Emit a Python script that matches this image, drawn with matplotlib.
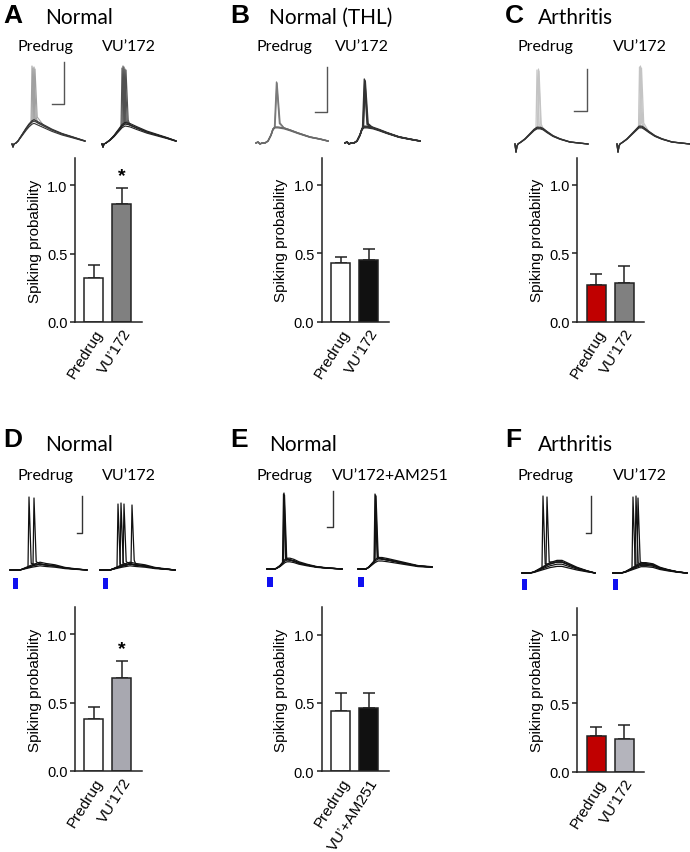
import numpy as np
import matplotlib
matplotlib.use('Agg')
import matplotlib.pyplot as plt

plt.rcParams['font.family'] = ['Liberation Sans', 'DejaVu Sans']

W, H = 690, 853

# ---------------- bar data (spiking probability) ----------------
labels_A = ['Predrug', 'VU’172']
means_A = [0.32, 0.86]
sem_A = [0.10, 0.12]
colors_A = ['white', '#808080']

labels_B = ['Predrug', 'VU’172']
means_B = [0.43, 0.45]
sem_B = [0.04, 0.08]
colors_B = ['white', '#111111']

labels_C = ['Predrug', 'VU’172']
means_C = [0.27, 0.28]
sem_C = [0.08, 0.125]
colors_C = ['#c00000', '#808080']

labels_D = ['Predrug', 'VU’172']
means_D = [0.38, 0.68]
sem_D = [0.09, 0.125]
colors_D = ['white', '#a8a8b0']

labels_E = ['Predrug', 'VU’+AM251']
means_E = [0.44, 0.46]
sem_E = [0.13, 0.11]
colors_E = ['white', '#111111']

labels_F = ['Predrug', 'VU’172']
means_F = [0.26, 0.24]
sem_F = [0.07, 0.105]
colors_F = ['#c00000', '#b4b4bc']

# ---------------- example traces (1 unit = 1 px) ----------------
# subthreshold waveform (t, v), sweep amplitudes, spike onsets and spike peaks
A_pre_t = [0, 1, 2, 4, 6, 10, 14, 17, 20, 22, 26, 32, 40, 50, 60, 73]
A_pre_v = [0, -3, 0, 1, 3, 9, 15, 19, 22, 23, 21, 18, 14, 10, 7, 3]
A_pre_gain = [0.9, 1.0, 1.06]
A_pre_spk = [19, 20, 21, 22]
A_pre_peak = [78, 76, 77, 75]

A_vu_t = [0, 1, 2, 4, 8, 12, 16, 20, 23, 28, 35, 45, 55, 65, 74]
A_vu_v = [0, -3, 0, 1, 4, 8, 13, 18, 20, 19, 16, 12, 9, 6, 3]
A_vu_gain = [0.9, 1.0, 1.08]
A_vu_spk = [19, 20, 21, 22, 23]
A_vu_peak = [76, 78, 77, 75, 74]

B_pre_t = [0, 2, 4, 6, 9, 12, 15, 17, 19, 22, 28, 34, 42, 54, 64, 72]
B_pre_v = [0, 1, -1, 0, 0, 2, 8, 14, 16, 16, 15, 13, 10, 6, 4, 2]
B_pre_gain = [0.95, 1.0]
B_pre_spk = [18.5, 19]
B_pre_peak = [61, 60]

B_vu_t = [0, 2, 4, 6, 9, 12, 15, 17, 19, 22, 28, 34, 42, 54, 64, 75]
B_vu_v = [0, 1, -1, 0, 0, 2, 8, 14, 16, 16, 15, 13, 10, 6, 4, 2]
B_vu_gain = [0.95, 1.0, 1.05]
B_vu_spk = [17.5, 18, 18.5]
B_vu_peak = [64, 63, 62]

C_pre_t = [0, 1, 2, 3, 6, 10, 15, 19, 22, 25, 28, 32, 38, 45, 55, 73]
C_pre_v = [0, -8, -2, 0, 2, 5, 10, 14, 16, 16, 15, 12, 8, 5, 2, 0]
C_pre_gain = [0.95, 1.0, 1.05]
C_pre_spk = [21, 22.5, 23]
C_pre_peak = [74, 75, 73]

C_vu_t = [0, 1, 2, 3, 6, 10, 15, 19, 22, 25, 28, 32, 38, 45, 55, 73]
C_vu_v = [0, -8, -2, 0, 2, 5, 10, 14, 17, 17, 15, 12, 8, 5, 2, 0]
C_vu_gain = [0.95, 1.0, 1.05]
C_vu_spk = [21.5, 22.5, 23.5]
C_vu_peak = [77, 78, 76]

D_pre_t = [0, 5, 10, 13, 16, 19, 22, 26, 30, 36, 45, 55, 65, 77]
D_pre_v = [0, 0, 0, 1, 2, 3, 4, 5, 6, 5, 4, 2, 1, 0]
D_pre_gain = [0.7, 1.0, 1.3]
D_pre_spk = [18, 23]
D_pre_peak = [73, 72]

D_vu_t = [0, 5, 10, 13, 16, 19, 22, 26, 30, 36, 45, 55, 65, 75]
D_vu_v = [0, 0, 0, 1, 2, 3, 4, 5, 6, 5, 4, 2, 1, 0]
D_vu_gain = [0.7, 1.0, 1.3]
D_vu_spk = [17, 20, 23, 31]
D_vu_peak = [66, 67, 66, 65]

E_pre_t = [0, 4, 8, 10, 13, 16, 18, 20, 23, 27, 32, 40, 50, 60, 75]
E_pre_v = [0, 0, 0, 1, 3, 6, 8, 9, 9, 8, 6, 4, 2, 1, 0]
E_pre_gain = [0.8, 1.0, 1.2]
E_pre_spk = [15.5, 16, 16.5]
E_pre_peak = [75, 76, 74]

E_vu_t = [0, 4, 8, 11, 14, 17, 20, 24, 30, 40, 50, 60, 74]
E_vu_v = [0, 0, 0, 2, 5, 8, 10, 10, 9, 7, 5, 3, 2]
E_vu_gain = [0.8, 1.0, 1.15]
E_vu_spk = [16, 16.5, 17]
E_vu_peak = [75, 74, 73]

F_pre_t = [0, 8, 12, 16, 20, 24, 28, 35, 40, 45, 55, 65, 73]
F_pre_v = [0, 0, 1, 3, 5, 7, 9, 11, 11, 9, 5, 2, 0]
F_pre_gain = [0.6, 0.8, 1.0, 1.15]
F_pre_spk = [20, 24]
F_pre_peak = [77, 76]

F_vu_t = [0, 8, 12, 16, 20, 24, 28, 33, 40, 47, 55, 65, 74]
F_vu_v = [0, 0, 1, 3, 5, 7, 9, 9, 8, 5, 3, 1, 0]
F_vu_gain = [0.7, 0.85, 1.0, 1.15]
F_vu_spk = [19, 22, 24]
F_vu_peak = [76, 77, 75]

# light stimulus (t start, duration, v top, v bottom)
stim_D = [3, 5, -8, -19]
stim_E = [0, 6, -8, -18]
stim_F = [0, 5, -6, -17]

# scale bars: (t vertical, v low, v high, t left of horizontal)
scale_A = [52, 40, 82, 40]
scale_B = [71, 31, 76, 59]
scale_C = [72, 33, 75, 59]
scale_D = [72, 37, 74, 67]
scale_E = [66, 42, 78, 60]
scale_F = [69, 40, 77, 64]


fig = plt.figure(figsize=(W / 100, H / 100), dpi=100)


def px_axes(left, top, width, height):
    return fig.add_axes([left / W, 1 - (top + height) / H, width / W, height / H])


def ftext(x, y, s, **kw):
    fig.text(x / W, 1 - y / H, s, **kw)


def trace_axes(x0, ybase):
    ax = px_axes(x0 - 3, ybase - 90, 83, 112)
    ax.set_xlim(-3, 80)
    ax.set_ylim(-22, 90)
    ax.axis('off')
    return ax


def draw_traces(ax, t, v, gains, onsets, peaks, sub_col, spk_col, rise=1.0, fall=2.2, lw=0.8):
    t = np.asarray(t, float)
    v = np.asarray(v, float)
    for t0, pk in zip(onsets, peaks):
        v0 = np.interp(t0, t, v)
        before = t < t0
        after = t > t0 + rise + fall + 1.5
        tt = np.concatenate([t[before], [t0, t0 + rise, t0 + rise + fall], t[after]])
        vv = np.concatenate([v[before], [v0, pk, v0 + 4], v[after]])
        ax.plot(tt, vv, color=spk_col, lw=lw, solid_joinstyle='round')
    for g in gains:
        ax.plot(t, v * g, color=sub_col, lw=lw, solid_joinstyle='round')


def scale_bar(ax, sb, col):
    ax.plot([sb[3], sb[0], sb[0]], [sb[1], sb[1], sb[2]], color=col, lw=1.0)


def stim(ax, st):
    ax.bar(st[0], st[2] - st[3], width=st[1], bottom=st[3], align='edge',
           color='#1010f0', edgecolor='none')


def bar_panel(left, bottom, labels, means, sems, colors, star=None):
    unit = 136.8
    ax = px_axes(left, bottom - 1.2 * unit, 67, 1.2 * unit)
    x = np.arange(len(means))
    ax.bar(x, means, width=0.68, color=colors, edgecolor='#222222', lw=1.1, zorder=2)
    ax.errorbar(x, means, yerr=[np.zeros(len(sems)), sems], fmt='none',
                ecolor='#222222', elinewidth=1.1, capsize=4, capthick=1.1, zorder=1)
    ax.set_xlim(-0.68, 1.72)
    ax.set_ylim(0, 1.2)
    ax.set_yticks([0, 0.5, 1.0])
    ax.set_yticklabels(['0.0', '0.5', '1.0'])
    ax.set_xticks(x)
    ax.set_xticklabels(labels, rotation=58, ha='right', va='top',
                       rotation_mode='anchor', fontsize=11)
    ax.tick_params(axis='x', length=0, pad=3)
    ax.tick_params(axis='y', length=3.8, width=1.1, labelsize=10.5, pad=1.5, color='#222222')
    for s in ['top', 'right']:
        ax.spines[s].set_visible(False)
    for s in ['left', 'bottom']:
        ax.spines[s].set_linewidth(1.1)
        ax.spines[s].set_color('#222222')
    ax.set_ylabel('Spiking probability', fontsize=11, labelpad=4)
    if star is not None:
        ax.text(star, means[star] + sems[star] + 0.03, '*', ha='center', va='bottom',
                fontsize=14, fontweight='bold')
    return ax


title_font = dict(family=['Lato', 'DejaVu Sans'])
letter_font = dict(family=['Liberation Sans', 'DejaVu Sans'], fontweight='bold', fontsize=19)

# ---------------- header texts ----------------
heads = [
    ('A', 3, 23, 'Normal', 45, 24, 45, 129, 'VU’172', 51),
    ('B', 230, 23, 'Normal (THL)', 269, 24, 284, 362, 'VU’172', 51),
    ('C', 505, 23, 'Arthritis', 538, 24, 545, 640, 'VU’172', 51),
    ('D', 3, 447, 'Normal', 45, 451, 45, 129, 'VU’172', 480),
    ('E', 230, 447, 'Normal', 269, 451, 284, 390, 'VU’172+AM251', 480),
    ('F', 505, 447, 'Arthritis', 538, 451, 545, 640, 'VU’172', 480),
]
for let, lx, ly, title, tx, ty, px1, px2, drug, py in heads:
    ftext(lx, ly, let, va='baseline', **letter_font)
    ftext(tx, ty, title, va='baseline', fontsize=15, **title_font)
    ftext(px1, py, 'Predrug', ha='center', va='baseline', fontsize=11.5, **title_font)
    ftext(px2, py, drug, ha='center', va='baseline', fontsize=11.5, **title_font)

# ---------------- traces row 1 ----------------
ax = trace_axes(12, 145)
draw_traces(ax, A_pre_t, A_pre_v, A_pre_gain, A_pre_spk, A_pre_peak, '#333333', '#a0a0a0')
scale_bar(ax, scale_A, '#555555')
ax = trace_axes(102, 145)
draw_traces(ax, A_vu_t, A_vu_v, A_vu_gain, A_vu_spk, A_vu_peak, '#222222', '#505050')

ax = trace_axes(256, 144)
draw_traces(ax, B_pre_t, B_pre_v, B_pre_gain, B_pre_spk, B_pre_peak, '#6a6a6a', '#7a7a7a',
            rise=2.0, fall=3.0, lw=1.0)
scale_bar(ax, scale_B, '#555555')
ax = trace_axes(345, 144)
draw_traces(ax, B_vu_t, B_vu_v, B_vu_gain, B_vu_spk, B_vu_peak, '#333333', '#333333',
            rise=1.8, fall=2.8, lw=1.0)

ax = trace_axes(515, 145)
draw_traces(ax, C_pre_t, C_pre_v, C_pre_gain, C_pre_spk, C_pre_peak, '#333333', '#c4c4c4',
            lw=0.9)
scale_bar(ax, scale_C, '#555555')
ax = trace_axes(617, 145)
draw_traces(ax, C_vu_t, C_vu_v, C_vu_gain, C_vu_spk, C_vu_peak, '#333333', '#c4c4c4',
            lw=0.9)

# ---------------- traces row 2 ----------------
ax = trace_axes(10, 571)
draw_traces(ax, D_pre_t, D_pre_v, D_pre_gain, D_pre_spk, D_pre_peak, '#111111', '#111111', lw=0.9)
scale_bar(ax, scale_D, '#333333')
stim(ax, stim_D)
ax = trace_axes(100, 571)
draw_traces(ax, D_vu_t, D_vu_v, D_vu_gain, D_vu_spk, D_vu_peak, '#111111', '#111111', lw=0.9)
stim(ax, stim_D)

ax = trace_axes(267, 570)
draw_traces(ax, E_pre_t, E_pre_v, E_pre_gain, E_pre_spk, E_pre_peak, '#111111', '#111111', lw=0.9)
scale_bar(ax, scale_E, '#333333')
stim(ax, stim_E)
ax = trace_axes(358, 570)
draw_traces(ax, E_vu_t, E_vu_v, E_vu_gain, E_vu_spk, E_vu_peak, '#111111', '#111111', lw=0.9)
stim(ax, stim_E)

ax = trace_axes(522, 574)
draw_traces(ax, F_pre_t, F_pre_v, F_pre_gain, F_pre_spk, F_pre_peak, '#111111', '#111111', lw=0.9)
scale_bar(ax, scale_F, '#333333')
stim(ax, stim_F)
ax = trace_axes(613, 574)
draw_traces(ax, F_vu_t, F_vu_v, F_vu_gain, F_vu_spk, F_vu_peak, '#111111', '#111111', lw=0.9)
stim(ax, stim_F)

# ---------------- bar charts ----------------
bar_panel(75, 323, labels_A, means_A, sem_A, colors_A, star=1)
bar_panel(321.7, 322.7, labels_B, means_B, sem_B, colors_B)
bar_panel(577.3, 322.7, labels_C, means_C, sem_C, colors_C)
bar_panel(75, 772, labels_D, means_D, sem_D, colors_D, star=1)
bar_panel(321.7, 772.3, labels_E, means_E, sem_E, colors_E)
bar_panel(577.3, 772.7, labels_F, means_F, sem_F, colors_F)

fig.savefig('out.png', dpi=100)
